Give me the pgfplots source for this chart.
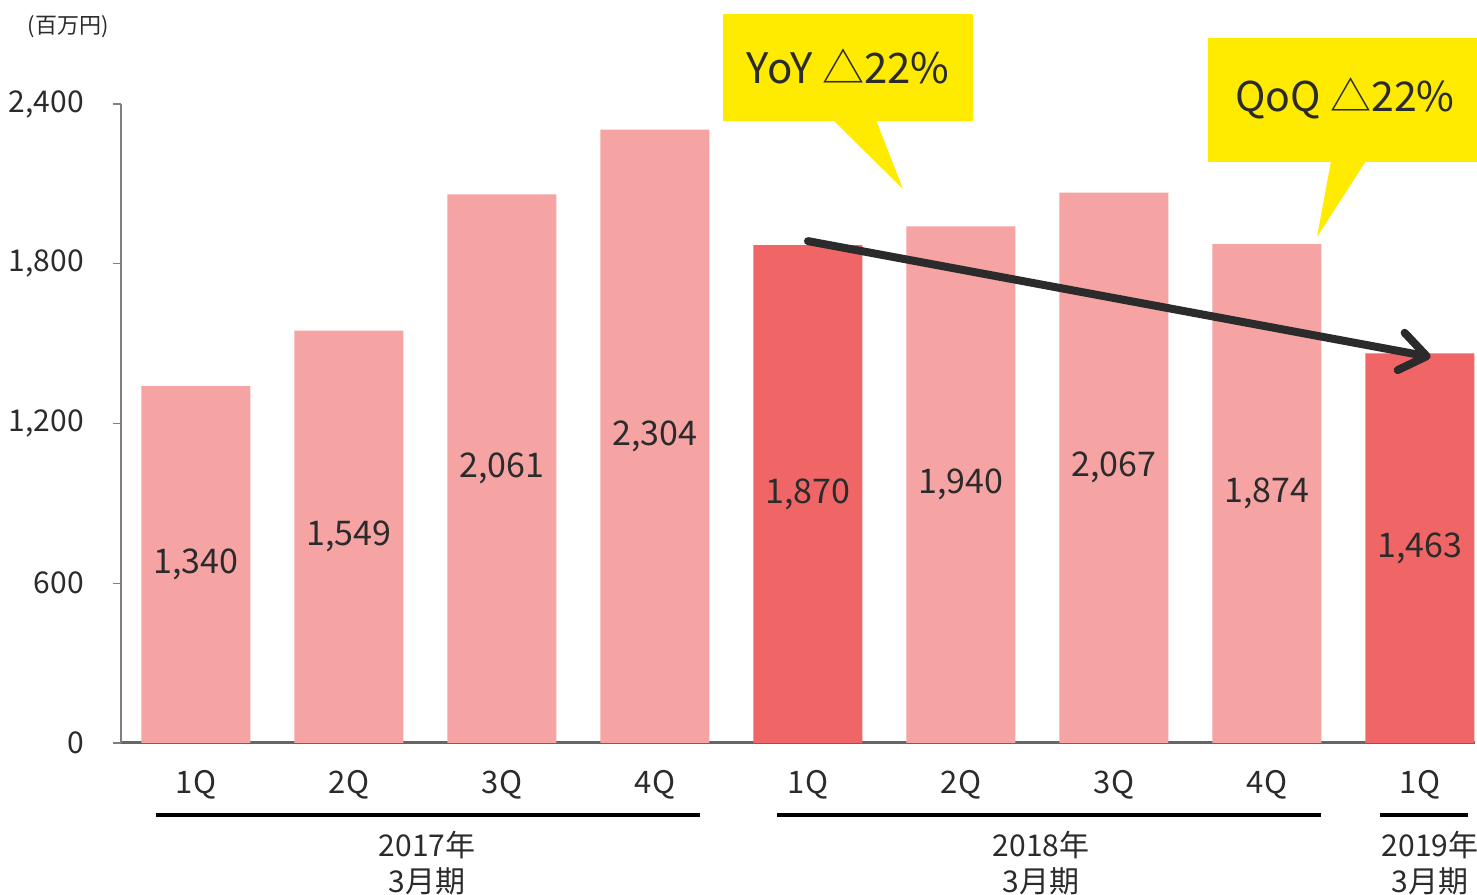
\documentclass[border=0pt]{standalone}
\usepackage{fontspec}
\setmainfont{Noto Sans CJK JP}
\usepackage{pgfplots}
\pgfplotsset{compat=1.18}
\usetikzlibrary{arrows.meta}
\definecolor{lightbar}{HTML}{F5A3A3}
\definecolor{darkbar}{HTML}{F06666}
\definecolor{callout}{HTML}{FFEB00}
\definecolor{txt}{HTML}{2B2B2B}
\definecolor{axgray}{HTML}{7F7F7F}
\begin{document}
\begin{tikzpicture}[x=0.5pt,y=0.5pt]
\useasboundingbox (0,0) rectangle (1477,894);
\begin{axis}[
  at={(60.5pt,75.5pt)}, anchor=south west,
  scale only axis, width=677pt, height=319.5pt,
  xmin=-0.49, xmax=8.36, ymin=0, ymax=2400,
  ybar, bar width=54.5pt, bar shift=0pt,
  axis x line*=bottom, axis y line*=left,
  x axis line style={draw=axgray!80!black, line width=1.5pt},
  y axis line style={draw=axgray, line width=0.7pt},
  ytick={0,600,1200,1800,2400},
  ytick style={draw=axgray, line width=0.7pt},
  tick align=outside, major tick length=4pt,
  xtick={0,...,8},
  xticklabels={1Q,2Q,3Q,4Q,1Q,2Q,3Q,4Q,1Q},
  xtick style={draw=none},
  extra x ticks={-0.49,0.5,1.5,2.5,3.5,4.5,5.5,6.5,7.5},
  extra x tick labels={},
  extra x tick style={tick style={draw=axgray, line width=0.6pt}, major tick length=5pt},
  /pgf/number format/assume math mode=true,
  yticklabel style={font=\fontsize{15}{18}\selectfont, text=txt, xshift=-11pt},
  xticklabel style={font=\fontsize{15.5}{18}\selectfont, text=txt, yshift=-6pt},
  nodes near coords,
  visualization depends on={rawy*0.0665625 \as \myshift},
  every node near coord/.append style={anchor=center, yshift=-\myshift pt, font=\fontsize{17}{20}\selectfont, text=txt},
  clip=false,
]
\addplot[fill=lightbar, draw=none] coordinates {(0,1340) (1,1549) (2,2061) (3,2304) (5,1940) (6,2067) (7,1874)};
\addplot[fill=darkbar, draw=none] coordinates {(4,1870) (8,1463)};
\draw[line width=4pt, color=txt, line cap=round, -{Straight Barb[length=13pt,width=19pt,line cap=round,line join=round]}]
  (axis cs:4,1885) -- (axis cs:8.07,1450);
\end{axis}
% unit label
\node[font=\fontsize{11}{13}\selectfont, text=txt] at (68,867) {(百万円)};
% callouts
\fill[callout] (723,773) rectangle (973,880);
\fill[callout] (833,774) -- (903,705) -- (876,774) -- cycle;
\node[font=\fontsize{21}{25}\selectfont, text=txt] at (848,828) {YoY △22\%};
\fill[callout] (1208,732) rectangle (1477,856);
\fill[callout] (1331,733) -- (1317,657) -- (1366,733) -- cycle;
\node[font=\fontsize{20.5}{25}\selectfont, text=txt] at (1345,796) {QoQ △22\%};
% group lines
\draw[line width=1.5pt, black] (156,79) -- (700,79);
\draw[line width=1.5pt, black] (777,79) -- (1321,79);
\draw[line width=1.5pt, black] (1380,79) -- (1468,79);
\node[font=\fontsize{15}{18}\selectfont, text=txt, align=center, inner sep=0pt] at (427,31) {2017年\\3月期};
\node[font=\fontsize{15}{18}\selectfont, text=txt, align=center, inner sep=0pt] at (1041,31) {2018年\\3月期};
\node[font=\fontsize{15}{18}\selectfont, text=txt, align=center, inner sep=0pt] at (1430,31) {2019年\\3月期};
\end{tikzpicture}
\end{document}
